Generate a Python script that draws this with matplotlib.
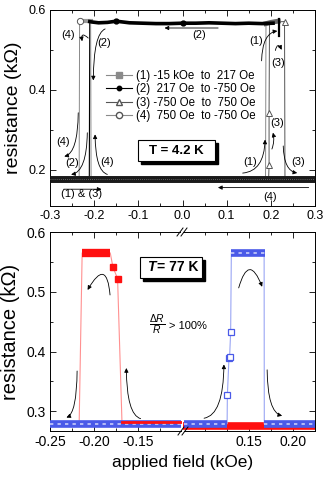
import matplotlib
matplotlib.use('Agg')
import matplotlib.pyplot as plt
from matplotlib.patches import FancyArrowPatch, Rectangle
from matplotlib.lines import Line2D
from matplotlib.ticker import MultipleLocator, FixedLocator

plt.rcParams['font.family'] = ['Liberation Sans', 'DejaVu Sans']
plt.rcParams['mathtext.fontset'] = 'custom'
plt.rcParams['mathtext.rm'] = 'Liberation Sans'
plt.rcParams['mathtext.it'] = 'Liberation Sans:italic'

# ================= DATA =================
# ---- top panel (T = 4.2 K) ----
top_xticks = [-0.3, -0.2, -0.1, 0.0, 0.1, 0.2, 0.3]
top_yticks = [0.2, 0.4, 0.6]
legend_labels = ['(1) -15 kOe  to  217 Oe', '(2)  217 Oe  to -750 Oe',
                 '(3) -750 Oe  to  750 Oe', '(4)  750 Oe  to -750 Oe']

base_top_x = [-0.30, 0.30]
base_top_y = [0.178, 0.178]

s1_x = [-0.300, 0.188, 0.189, 0.200, 0.210, 0.217]
s1_y = [0.178, 0.178, 0.566, 0.569, 0.571, 0.572]

s2_x = [0.218, 0.218, 0.205, 0.180, 0.150, 0.120, 0.090, 0.060, 0.030, 0.000,
        -0.030, -0.060, -0.090, -0.120, -0.150, -0.170, -0.190, -0.205, -0.210,
        -0.211, -0.300]
s2_y = [0.535, 0.578, 0.567, 0.566, 0.567, 0.566, 0.567, 0.568, 0.567, 0.567,
        0.566, 0.566, 0.567, 0.568, 0.572, 0.569, 0.568, 0.570, 0.571,
        0.178, 0.178]

s3_x = [-0.300, 0.195, 0.196, 0.196, 0.197, 0.231, 0.232, 0.300]
s3_y = [0.178, 0.178, 0.212, 0.342, 0.570, 0.571, 0.178, 0.178]

s4_x = [0.300, -0.207, -0.208, -0.233, -0.234, -0.300]
s4_y = [0.178, 0.178, 0.572, 0.572, 0.178, 0.178]

# ---- bottom panel (T = 77 K) ----
bl_xlim = [-0.25, -0.10]
br_xlim = [0.075, 0.225]
bot_ylim = [0.267, 0.6]

red_line_x = [-0.250, -0.217, -0.2136, -0.1818, -0.1787, -0.1735, -0.1685, -0.100]
red_line_y = [0.279, 0.279, 0.565, 0.565, 0.541, 0.522, 0.281, 0.281]
red_plateau_x = [-0.2136, -0.1818]
red_plateau_y = [0.565, 0.565]
red_pts_x = [-0.1787, -0.1735]
red_pts_y = [0.541, 0.522]
red_base_right_x = [0.075, 0.225]
red_base_right_y = [0.276, 0.276]

blue_base_left_x = [-0.250, -0.102]
blue_base_left_y = [0.278, 0.278]
blue_line_x = [0.077, 0.1255, 0.1258, 0.1276, 0.1283, 0.1295, 0.1303, 0.1674, 0.1676, 0.225]
blue_line_y = [0.279, 0.279, 0.327, 0.389, 0.390, 0.432, 0.565, 0.565, 0.279, 0.279]
blue_pts_x = [0.1258, 0.1276, 0.1283, 0.1295]
blue_pts_y = [0.327, 0.389, 0.390, 0.432]
blue_plateau_x = [0.1303, 0.1682]
blue_plateau_y = [0.565, 0.565]
blue_base_right_x = [[0.077, 0.1255], [0.1676, 0.225]]
blue_base_right_y = [[0.279, 0.279], [0.279, 0.279]]

# ================= FIGURE =================
W, H = 332, 478
fig = plt.figure(figsize=(W / 100, H / 100), dpi=100)

def fx(px):
    return px / W

def fy(py):
    return 1 - py / H

ax1 = fig.add_axes([fx(50), fy(206), fx(265), 196 / H])
axL = fig.add_axes([fx(50), fy(431), fx(132.5), 199 / H])
axR = fig.add_axes([fx(182.5), fy(431), fx(132.5), 199 / H])

GRAY = '#8a8a8a'
DGRAY = '#555555'

# ---- top panel ----
ax1.plot(base_top_x, base_top_y, color='#1a1a1a', lw=5, solid_capstyle='butt', zorder=3)
ax1.plot(base_top_x, base_top_y, color='#777777', lw=0.6, ls=(0, (1, 1.5)), zorder=3.5)
ax1.plot(s1_x, s1_y, color=GRAY, lw=0.7, zorder=2)
ax1.plot(s1_x[2:], s1_y[2:], color='#666666', lw=3.5, zorder=2.5)
ax1.plot(s2_x, s2_y, color='black', lw=0.8, zorder=2)
ax1.plot(s2_x[2:19], s2_y[2:19], color='black', lw=2.6, zorder=4)
ax1.plot(s2_x[:2], s2_y[:2], color='black', lw=1.6, zorder=4)
ax1.plot([s2_x[14], s2_x[9]], [s2_y[14], s2_y[9]], ls='none', marker='o',
         ms=3.5, color='black', zorder=5)
ax1.plot(s3_x, s3_y, color=DGRAY, lw=0.7, zorder=2)
ax1.plot([s3_x[2], s3_x[3], s3_x[6]], [s3_y[2], s3_y[3], s3_y[5]], ls='none',
         marker='^', ms=4, mfc='white', mec=DGRAY, mew=0.7, zorder=5)
ax1.plot(s4_x, s4_y, color=GRAY, lw=0.7, zorder=2)
ax1.plot(s4_x[2:4], s4_y[2:4], color='#999999', lw=3, zorder=2.5)
ax1.plot([s4_x[3]], [s4_y[3]], ls='none', marker='o', ms=4.5, mfc='white',
         mec=DGRAY, mew=0.7, zorder=5)

ax1.set_xlim(-0.3, 0.3)
ax1.set_ylim(0.11, 0.6)
ax1.xaxis.set_major_locator(FixedLocator(top_xticks))
ax1.xaxis.set_minor_locator(MultipleLocator(0.05))
ax1.yaxis.set_major_locator(FixedLocator(top_yticks))
ax1.yaxis.set_minor_locator(MultipleLocator(0.1))
ax1.set_xticklabels(['-0.3', '-0.2', '-0.1', '0.0', '0.1', '0.2', '0.3'])
ax1.set_yticklabels(['0.2', '0.4', '0.6'])
ax1.tick_params(which='both', direction='in', top=True, right=True, labelsize=9, pad=3)
ax1.tick_params(which='major', length=4, width=0.6)
ax1.tick_params(which='minor', length=2.5, width=0.6)
for sp in ax1.spines.values():
    sp.set_linewidth(0.7)
ax1.set_ylabel('resistance (k\u03a9)', fontsize=14, labelpad=5)

handles = [
    Line2D([], [], color=GRAY, lw=0.8, marker='s', ms=4, mfc=GRAY, mec=GRAY),
    Line2D([], [], color='black', lw=0.8, marker='o', ms=3.2, mfc='black', mec='black'),
    Line2D([], [], color=DGRAY, lw=0.8, marker='^', ms=4.5, mfc='white', mec=DGRAY),
    Line2D([], [], color=GRAY, lw=0.8, marker='o', ms=4.5, mfc='white', mec=DGRAY),
]
ax1.legend(handles, legend_labels, loc='upper left', bbox_to_anchor=(0.21, 0.695),
           frameon=False, fontsize=8.3, handlelength=2.3, handletextpad=0.3,
           labelspacing=0.12, borderpad=0, borderaxespad=0)

arrow_kw = dict(arrowstyle='-|>', mutation_scale=6, lw=0.6, color='black', zorder=6)

def arr(ax, a, b, cs):
    ax.add_patch(FancyArrowPatch(a, b, connectionstyle=cs, **arrow_kw))

arr(ax1, (0.087, 0.555), (-0.047, 0.555), 'arc3,rad=0')
arr(ax1, (0.292, 0.156), (0.074, 0.156), 'arc3,rad=0')
arr(ax1, (-0.275, 0.152), (-0.177, 0.152), 'arc3,rad=0')
arr(ax1, (-0.209, 0.525), (-0.226, 0.515), 'arc3,rad=1.8')
arr(ax1, (-0.169, 0.554), (-0.202, 0.417), 'angle3,angleA=0,angleB=90')
arr(ax1, (0.179, 0.466), (0.221, 0.548), 'angle3,angleA=90,angleB=0')
arr(ax1, (0.209, 0.492), (0.227, 0.494), 'arc3,rad=-1.8')
arr(ax1, (0.200, 0.246), (0.203, 0.300), 'arc3,rad=0.2')
arr(ax1, (0.130, 0.192), (0.187, 0.283), 'angle3,angleA=0,angleB=90')
arr(ax1, (0.228, 0.267), (0.266, 0.192), 'angle3,angleA=90,angleB=0')
arr(ax1, (-0.236, 0.350), (-0.274, 0.233), 'angle3,angleA=90,angleB=0')
arr(ax1, (-0.2155, 0.300), (-0.2585, 0.188), 'angle3,angleA=90,angleB=0')
arr(ax1, (-0.164, 0.188), (-0.198, 0.296), 'angle3,angleA=0,angleB=90')

lab_kw = dict(fontsize=8, ha='center', va='center', zorder=7)
for (x, y, s) in [(68, 35, '(4)'), (104, 42.7, '(2)'), (199, 35, '(2)'),
                  (256, 40.7, '(1)'), (278, 62.7, '(3)'), (277, 123.3, '(3)'),
                  (63, 141.7, '(4)'), (71.7, 163.3, '(2)'), (106.7, 161.7, '(4)'),
                  (250, 161.7, '(1)'), (298.3, 161.7, '(3)'), (81.7, 194.3, '(1) & (3)'),
                  (270, 196.7, '(4)')]:
    fig.text(fx(x), fy(y), s, **lab_kw)

# T = 4.2 K box
fig.patches.append(Rectangle((fx(141.3), fy(164)), fx(76.7), 21 / H, transform=fig.transFigure,
                             facecolor='black', edgecolor='black', zorder=8))
fig.patches.append(Rectangle((fx(138.3), fy(161)), fx(76.7), 21 / H, transform=fig.transFigure,
                             facecolor='white', edgecolor='black', lw=0.8, zorder=9))
fig.text(fx(176.7), fy(150.5), 'T = 4.2 K', fontsize=9.5, fontweight='bold',
         ha='center', va='center', zorder=10)

# ---- bottom panel ----
RED = '#ff1010'
LRED = '#ff9090'
BLUE = '#4a5ae8'
LBLUE = '#9aa6f4'

for ax in (axL, axR):
    ax.set_ylim(*bot_ylim)
axL.set_xlim(*bl_xlim)
axR.set_xlim(*br_xlim)

# left segment
axL.plot(red_line_x, red_line_y, color=LRED, lw=0.8, zorder=2)
axL.plot(red_plateau_x, red_plateau_y, color=RED, lw=6, solid_capstyle='butt', zorder=4)
axL.plot(red_pts_x, red_pts_y, ls='none', marker='s', ms=5, color=RED, zorder=4)
axL.plot([red_line_x[6], red_line_x[7]], [0.2815, 0.2815], color=RED, lw=2, zorder=3.5)
axL.plot(blue_base_left_x, blue_base_left_y, color=BLUE, lw=5.5, solid_capstyle='butt', zorder=3)
axL.plot(blue_base_left_x, blue_base_left_y, color='#c8cdfa', lw=1.2, ls=(0, (2, 2.5)), zorder=3.2)

# right segment
axR.plot(red_base_right_x, red_base_right_y, color=RED, lw=5.5, solid_capstyle='butt', zorder=2)
axR.plot(blue_line_x, blue_line_y, color=LBLUE, lw=0.8, zorder=2.5)
for bx, by in zip(blue_base_right_x, blue_base_right_y):
    axR.plot(bx, by, color=BLUE, lw=5.5, solid_capstyle='butt', zorder=3)
    axR.plot(bx, by, color='#c8cdfa', lw=1.2, ls=(0, (2, 2.5)), zorder=3.2)
axR.plot(blue_plateau_x, blue_plateau_y, color=BLUE, lw=5.5, solid_capstyle='butt', zorder=3)
axR.plot(blue_plateau_x, blue_plateau_y, color='#c8cdfa', lw=1.2, ls=(0, (2, 2.5)), zorder=3.2)
axR.plot(blue_pts_x, blue_pts_y, ls='none', marker='s', ms=4.5, mfc='white', mec=BLUE,
         mew=0.9, zorder=4)

for ax in (axL, axR):
    ax.yaxis.set_major_locator(MultipleLocator(0.1))
    ax.yaxis.set_minor_locator(MultipleLocator(0.05))
    ax.tick_params(which='both', direction='in', top=True, labelsize=10, pad=3)
    ax.tick_params(which='major', length=4, width=0.6)
    ax.tick_params(which='minor', length=2.5, width=0.6)
    for sp in ax.spines.values():
        sp.set_linewidth(0.7)

axL.xaxis.set_major_locator(FixedLocator([-0.25, -0.20, -0.15]))
axL.xaxis.set_minor_locator(FixedLocator([-0.225, -0.175, -0.125]))
axL.set_xticklabels(['-0.25', '-0.20', '-0.15'])
axL.set_yticks([0.3, 0.4, 0.5, 0.6])
axL.set_yticklabels(['0.3', '0.4', '0.5', '0.6'])
axL.tick_params(right=False, which='both')
axL.spines['right'].set_visible(False)
axR.xaxis.set_major_locator(FixedLocator([0.15, 0.20]))
axR.xaxis.set_minor_locator(FixedLocator([0.10, 0.125, 0.175]))
axR.set_xticklabels(['0.15', '0.20'])
axR.spines['left'].set_visible(False)
axR.tick_params(left=False, labelleft=False, right=True, which='both')

axL.set_ylabel('resistance (k\u03a9)', fontsize=14.5, labelpad=5)
fig.text(fx(182.5), fy(462), 'applied field (kOe)', fontsize=12.5, ha='center', va='center')

arr(axL, (-0.2193, 0.372), (-0.2345, 0.2885), 'angle3,angleA=90,angleB=0')
arr(axL, (-0.1443, 0.287), (-0.1636, 0.377), 'angle3,angleA=0,angleB=90')
arr(axL, (-0.1818, 0.49), (-0.209, 0.499), 'arc3,rad=1.7')
arr(axR, (0.0963, 0.288), (0.1219, 0.383), 'angle3,angleA=0,angleB=90')
arr(axR, (0.1378, 0.502), (0.1663, 0.504), 'arc3,rad=-1.6')
arr(axR, (0.1708, 0.374), (0.1909, 0.292), 'angle3,angleA=90,angleB=0')

# axis break marks
for (cx, cy) in [(182, 232), (183, 431)]:
    for dx in (-2, 2):
        fig.add_artist(Line2D([fx(cx + dx - 3), fx(cx + dx + 3)], [fy(cy + 4), fy(cy - 4)],
                              color='black', lw=0.7, zorder=20))
    fig.patches.append(Rectangle((fx(cx - 1), fy(cy + 0.6)), fx(2), 1.2 / H,
                                 transform=fig.transFigure, facecolor='white',
                                 edgecolor='none', zorder=19))

# T = 77 K box
fig.patches.append(Rectangle((fx(143), fy(280.7)), fx(62), 20.7 / H, transform=fig.transFigure,
                             facecolor='black', edgecolor='black', zorder=8))
fig.patches.append(Rectangle((fx(140), fy(277.7)), fx(62), 20.7 / H, transform=fig.transFigure,
                             facecolor='white', edgecolor='black', lw=0.8, zorder=9))
fig.text(fx(151), fy(267.3), 'T', fontsize=10, fontweight='bold', fontstyle='italic',
         ha='center', va='center', zorder=10)
fig.text(fx(157), fy(267.3), '= 77 K', fontsize=10, fontweight='bold',
         ha='left', va='center', zorder=10)

fig.text(fx(149), fy(325), r'$\frac{\Delta R}{R}$', fontsize=10.5, ha='left', va='center')
fig.text(fx(169), fy(326), '> 100%', fontsize=8, ha='left', va='center')

fig.savefig('out.png', dpi=100)
